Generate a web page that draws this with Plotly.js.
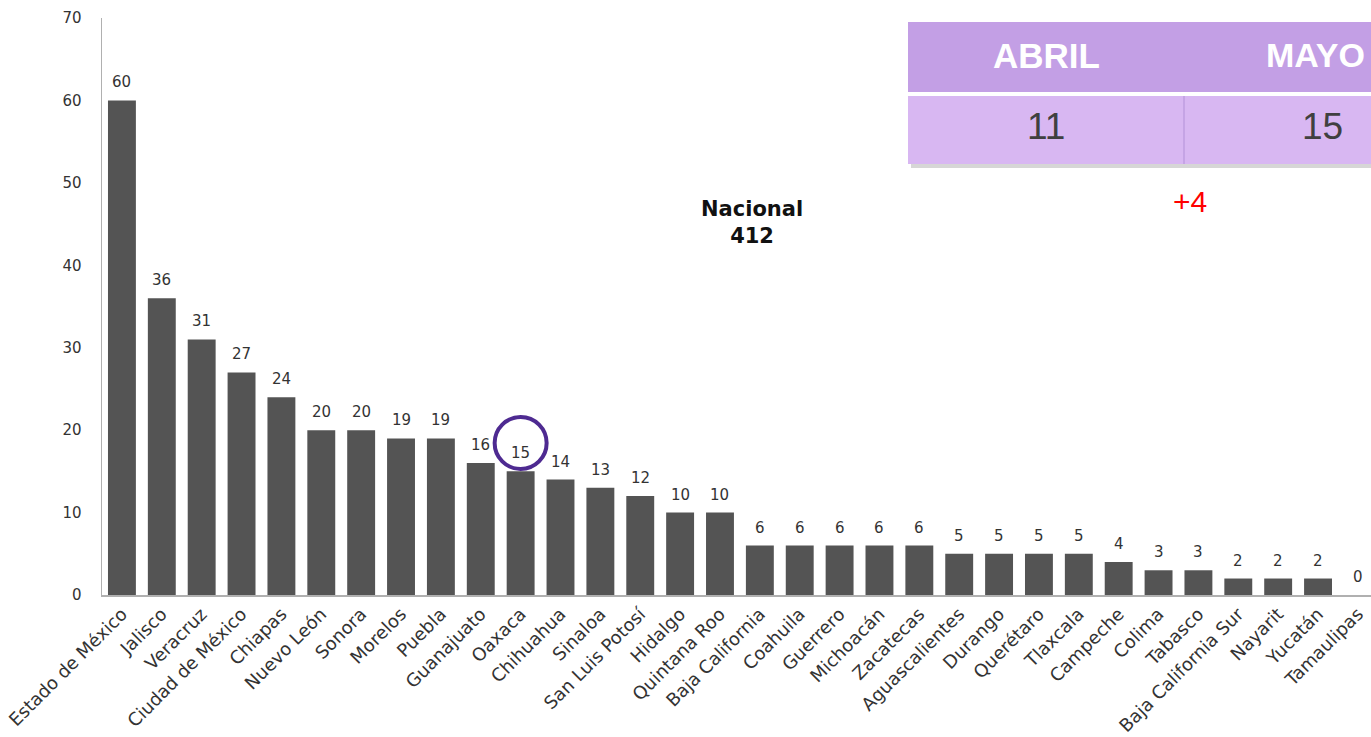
<!DOCTYPE html>
<html>
<head>
<meta charset="utf-8">
<script src="https://cdn.plot.ly/plotly-3.0.1.min.js"></script>
<style>
html,body{margin:0;padding:0;background:#fff;}
#chart{width:1371px;height:737px;}
</style>
</head>
<body>
<div id="chart"></div>
<script>
const estados = ["Estado de México","Jalisco","Veracruz","Ciudad de México","Chiapas","Nuevo León","Sonora","Morelos","Puebla","Guanajuato","Oaxaca","Chihuahua","Sinaloa","San Luis Potosí","Hidalgo","Quintana Roo","Baja California","Coahuila","Guerrero","Michoacán","Zacatecas","Aguascalientes","Durango","Querétaro","Tlaxcala","Campeche","Colima","Tabasco","Baja California Sur","Nayarit","Yucatán","Tamaulipas"];
const casos = [60,36,31,27,24,20,20,19,19,16,15,14,13,12,10,10,6,6,6,6,6,5,5,5,5,4,3,3,2,2,2,0];
const yTicks = [0,10,20,30,40,50,60,70];
const tablaMeses = ["ABRIL","MAYO"];
const tablaValores = [11,15];
const diferencia = "+4";
const nacionalTotal = 412;
const destacado = "Oaxaca";

const FONT = "DejaVu Sans, sans-serif";
const L = 102, T = 18, W = 1371, H = 737, B = 142, R = 0;
const pw = W - L - R, ph = H - T - B;
const px = v => (v - L) / pw;
const py = v => (H - B - v) / ph;

const xs = estados.map((_, i) => i);

const trace = {
  type: "bar",
  x: xs,
  y: casos,
  marker: {color: "#545454", line: {width: 0}},
  hoverinfo: "skip"
};

const hi = estados.indexOf(destacado);

const shapes = [
  {type:"rect", xref:"paper", yref:"paper", x0:px(911), x1:1.05, y0:py(168), y1:py(26), fillcolor:"rgba(0,0,0,0.16)", line:{width:0}},
  {type:"rect", xref:"paper", yref:"paper", x0:px(908), x1:1.05, y0:py(164), y1:py(22), fillcolor:"#ffffff", line:{width:0}},
  {type:"rect", xref:"paper", yref:"paper", x0:px(908), x1:1.05, y0:py(92), y1:py(22), fillcolor:"#c39fe5", line:{width:0}},
  {type:"rect", xref:"paper", yref:"paper", x0:px(908), x1:1.05, y0:py(164), y1:py(96), fillcolor:"#d8b7f2", line:{width:0}},
  {type:"line", xref:"paper", yref:"paper", x0:px(1184), x1:px(1184), y0:py(164), y1:py(96), line:{color:"#bf9ee0", width:1.5}},
  {type:"circle", xref:"x", yref:"y", xsizemode:"pixel", ysizemode:"pixel", xanchor:hi, yanchor:(595-443)/(ph/70),
   x0:-26, x1:26, y0:-26, y1:26, line:{color:"#4e2a91", width:4}, fillcolor:"rgba(0,0,0,0)"}
];

const tfont = "Liberation Sans, Arial, sans-serif";
const annotations = [
  {xref:"paper", yref:"paper", x:px(1046), y:py(55), xanchor:"center", yanchor:"middle", text:"<b>"+tablaMeses[0]+"</b>", showarrow:false, font:{family:tfont, size:35, color:"#ffffff"}},
  {xref:"paper", yref:"paper", x:px(1315), y:py(55), xanchor:"center", yanchor:"middle", text:"<b>"+tablaMeses[1]+"</b>", showarrow:false, font:{family:tfont, size:34, color:"#ffffff"}},
  {xref:"paper", yref:"paper", x:px(1046), y:py(127), xanchor:"center", yanchor:"middle", text:String(tablaValores[0]), showarrow:false, font:{family:tfont, size:37, color:"#404040"}},
  {xref:"paper", yref:"paper", x:px(1322), y:py(127), xanchor:"center", yanchor:"middle", text:String(tablaValores[1]), showarrow:false, font:{family:tfont, size:37, color:"#404040"}},
  {xref:"paper", yref:"paper", x:px(1190), y:py(202), xanchor:"center", yanchor:"middle", text:diferencia, showarrow:false, font:{family:tfont, size:30, color:"#ff0000"}},
  {xref:"paper", yref:"paper", x:px(752), y:py(222), xanchor:"center", yanchor:"middle", text:"<b>Nacional<br>"+nacionalTotal+"</b>", showarrow:false, align:"center", font:{family:FONT, size:21, color:"#111111"}}
];

casos.forEach((v, i) => {
  annotations.push({xref:"x", yref:"y", x:xs[i], y:v, xanchor:"center", yanchor:"bottom", yshift:7,
    text:String(v), showarrow:false, font:{family:FONT, size:15, color:"#333333"}});
});

const layout = {
  width: W, height: H,
  margin: {l: L, r: R, t: T, b: B, pad: 0},
  paper_bgcolor: "#ffffff", plot_bgcolor: "#ffffff",
  showlegend: false,
  bargap: 0.3,
  xaxis: {
    range: [-0.5, (pw / 39.87) - 0.5],
    tickmode: "array", tickvals: xs, ticktext: estados,
    tickangle: -45, ticks: "", showgrid: false, zeroline: false,
    showline: true, linecolor: "#b0b0b0", linewidth: 1.5,
    tickfont: {family: FONT, size: 18, color: "#333333"},
    automargin: false
  },
  yaxis: {
    range: [0, 70], tickmode: "array", tickvals: yTicks,
    ticks: "outside", ticklen: 16, tickcolor: "rgba(0,0,0,0)",
    showgrid: false, zeroline: false,
    showline: true, linecolor: "#b0b0b0", linewidth: 1.5,
    tickfont: {family: FONT, size: 15, color: "#333333"},
    automargin: false
  },
  shapes: shapes,
  annotations: annotations
};

Plotly.newPlot("chart", [trace], layout, {displayModeBar: false, staticPlot: true});
</script>
</body>
</html>
